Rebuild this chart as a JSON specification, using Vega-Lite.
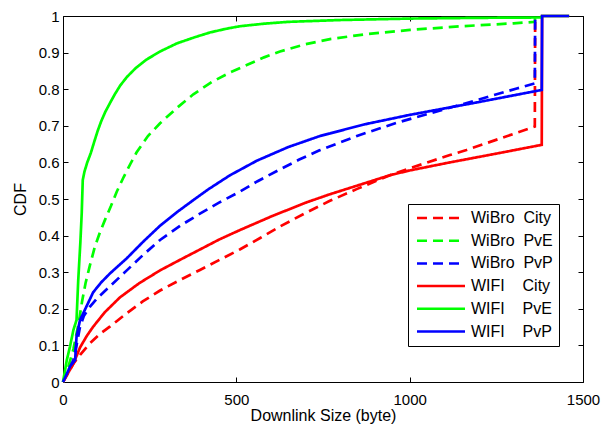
{
  "$schema": "https://vega.github.io/schema/vega-lite/v6.json",
  "width": 520,
  "height": 366,
  "autosize": {"type": "none"},
  "padding": {"left": 63, "top": 16, "right": 20, "bottom": 45},
  "config": {
    "font": "Liberation Sans",
    "view": {"stroke": null},
    "axis": {
      "domainColor": "black", "tickColor": "black", "labelColor": "black", "titleColor": "black",
      "labelFontSize": 15, "titleFontSize": 16, "titleFontWeight": "normal",
      "labelFont": "Liberation Sans", "titleFont": "Liberation Sans",
      "grid": false, "tickSize": -5, "domainWidth": 1, "tickWidth": 1,
      "labelFlush": false, "labelOverlap": false
    }
  },
  "data": {"values": [
    {"s":"WiBro City","x":0,"y":0},{"s":"WiBro City","x":12,"y":0.02},{"s":"WiBro City","x":30,"y":0.05},{"s":"WiBro City","x":50,"y":0.075},{"s":"WiBro City","x":78,"y":0.106},{"s":"WiBro City","x":105,"y":0.13},{"s":"WiBro City","x":136,"y":0.152},{"s":"WiBro City","x":184,"y":0.188},{"s":"WiBro City","x":230,"y":0.22},{"s":"WiBro City","x":280,"y":0.25},{"s":"WiBro City","x":340,"y":0.28},{"s":"WiBro City","x":395,"y":0.306},{"s":"WiBro City","x":450,"y":0.333},{"s":"WiBro City","x":510,"y":0.362},{"s":"WiBro City","x":570,"y":0.394},{"s":"WiBro City","x":626,"y":0.425},{"s":"WiBro City","x":700,"y":0.462},{"s":"WiBro City","x":770,"y":0.495},{"s":"WiBro City","x":847,"y":0.527},{"s":"WiBro City","x":910,"y":0.552},{"s":"WiBro City","x":943,"y":0.565},{"s":"WiBro City","x":1000,"y":0.584},{"s":"WiBro City","x":1116,"y":0.62},{"s":"WiBro City","x":1164,"y":0.634},{"s":"WiBro City","x":1260,"y":0.665},{"s":"WiBro City","x":1361,"y":0.698},{"s":"WiBro City","x":1362,"y":1.0},
    {"s":"WiBro PvE","x":0,"y":0},{"s":"WiBro PvE","x":15,"y":0.04},{"s":"WiBro PvE","x":30,"y":0.09},{"s":"WiBro PvE","x":45,"y":0.16},{"s":"WiBro PvE","x":55,"y":0.22},{"s":"WiBro PvE","x":65,"y":0.27},{"s":"WiBro PvE","x":78,"y":0.32},{"s":"WiBro PvE","x":92,"y":0.37},{"s":"WiBro PvE","x":107,"y":0.41},{"s":"WiBro PvE","x":122,"y":0.445},{"s":"WiBro PvE","x":138,"y":0.48},{"s":"WiBro PvE","x":155,"y":0.52},{"s":"WiBro PvE","x":175,"y":0.56},{"s":"WiBro PvE","x":195,"y":0.597},{"s":"WiBro PvE","x":212,"y":0.627},{"s":"WiBro PvE","x":245,"y":0.672},{"s":"WiBro PvE","x":280,"y":0.707},{"s":"WiBro PvE","x":330,"y":0.75},{"s":"WiBro PvE","x":376,"y":0.786},{"s":"WiBro PvE","x":430,"y":0.82},{"s":"WiBro PvE","x":482,"y":0.846},{"s":"WiBro PvE","x":530,"y":0.866},{"s":"WiBro PvE","x":580,"y":0.887},{"s":"WiBro PvE","x":626,"y":0.903},{"s":"WiBro PvE","x":700,"y":0.923},{"s":"WiBro PvE","x":770,"y":0.937},{"s":"WiBro PvE","x":880,"y":0.951},{"s":"WiBro PvE","x":1001,"y":0.962},{"s":"WiBro PvE","x":1150,"y":0.972},{"s":"WiBro PvE","x":1300,"y":0.98},{"s":"WiBro PvE","x":1361,"y":0.984},{"s":"WiBro PvE","x":1362,"y":1.0},
    {"s":"WiBro PvP","x":0,"y":0},{"s":"WiBro PvP","x":15,"y":0.03},{"s":"WiBro PvP","x":30,"y":0.06},{"s":"WiBro PvP","x":39,"y":0.1},{"s":"WiBro PvP","x":49,"y":0.15},{"s":"WiBro PvP","x":60,"y":0.18},{"s":"WiBro PvP","x":78,"y":0.206},{"s":"WiBro PvP","x":100,"y":0.23},{"s":"WiBro PvP","x":136,"y":0.262},{"s":"WiBro PvP","x":184,"y":0.305},{"s":"WiBro PvP","x":232,"y":0.348},{"s":"WiBro PvP","x":280,"y":0.388},{"s":"WiBro PvP","x":340,"y":0.428},{"s":"WiBro PvP","x":395,"y":0.46},{"s":"WiBro PvP","x":450,"y":0.49},{"s":"WiBro PvP","x":510,"y":0.52},{"s":"WiBro PvP","x":560,"y":0.548},{"s":"WiBro PvP","x":620,"y":0.578},{"s":"WiBro PvP","x":680,"y":0.607},{"s":"WiBro PvP","x":740,"y":0.633},{"s":"WiBro PvP","x":850,"y":0.673},{"s":"WiBro PvP","x":962,"y":0.708},{"s":"WiBro PvP","x":1100,"y":0.745},{"s":"WiBro PvP","x":1200,"y":0.772},{"s":"WiBro PvP","x":1309,"y":0.802},{"s":"WiBro PvP","x":1361,"y":0.816},{"s":"WiBro PvP","x":1362,"y":1.0},
    {"s":"WIFI City","x":0,"y":0},{"s":"WIFI City","x":15,"y":0.025},{"s":"WIFI City","x":30,"y":0.05},{"s":"WIFI City","x":49,"y":0.094},{"s":"WIFI City","x":68,"y":0.125},{"s":"WIFI City","x":87,"y":0.151},{"s":"WIFI City","x":120,"y":0.19},{"s":"WIFI City","x":164,"y":0.231},{"s":"WIFI City","x":220,"y":0.27},{"s":"WIFI City","x":280,"y":0.305},{"s":"WIFI City","x":340,"y":0.335},{"s":"WIFI City","x":395,"y":0.362},{"s":"WIFI City","x":450,"y":0.389},{"s":"WIFI City","x":510,"y":0.415},{"s":"WIFI City","x":600,"y":0.452},{"s":"WIFI City","x":700,"y":0.49},{"s":"WIFI City","x":770,"y":0.513},{"s":"WIFI City","x":850,"y":0.537},{"s":"WIFI City","x":943,"y":0.565},{"s":"WIFI City","x":1000,"y":0.578},{"s":"WIFI City","x":1116,"y":0.6},{"s":"WIFI City","x":1250,"y":0.624},{"s":"WIFI City","x":1381,"y":0.648},{"s":"WIFI City","x":1382,"y":1.0},{"s":"WIFI City","x":1460,"y":1.0},
    {"s":"WIFI PvE","x":0,"y":0},{"s":"WIFI PvE","x":11,"y":0.06},{"s":"WIFI PvE","x":20,"y":0.096},{"s":"WIFI PvE","x":30,"y":0.142},{"s":"WIFI PvE","x":39,"y":0.169},{"s":"WIFI PvE","x":44,"y":0.279},{"s":"WIFI PvE","x":50,"y":0.38},{"s":"WIFI PvE","x":54,"y":0.461},{"s":"WIFI PvE","x":57,"y":0.552},{"s":"WIFI PvE","x":62,"y":0.575},{"s":"WIFI PvE","x":70,"y":0.6},{"s":"WIFI PvE","x":80,"y":0.625},{"s":"WIFI PvE","x":90,"y":0.656},{"s":"WIFI PvE","x":100,"y":0.686},{"s":"WIFI PvE","x":110,"y":0.712},{"s":"WIFI PvE","x":122,"y":0.738},{"s":"WIFI PvE","x":136,"y":0.763},{"s":"WIFI PvE","x":150,"y":0.787},{"s":"WIFI PvE","x":165,"y":0.81},{"s":"WIFI PvE","x":184,"y":0.833},{"s":"WIFI PvE","x":210,"y":0.858},{"s":"WIFI PvE","x":241,"y":0.881},{"s":"WIFI PvE","x":280,"y":0.903},{"s":"WIFI PvE","x":328,"y":0.925},{"s":"WIFI PvE","x":380,"y":0.942},{"s":"WIFI PvE","x":424,"y":0.955},{"s":"WIFI PvE","x":470,"y":0.965},{"s":"WIFI PvE","x":510,"y":0.972},{"s":"WIFI PvE","x":580,"y":0.979},{"s":"WIFI PvE","x":650,"y":0.984},{"s":"WIFI PvE","x":800,"y":0.989},{"s":"WIFI PvE","x":1001,"y":0.993},{"s":"WIFI PvE","x":1200,"y":0.995},{"s":"WIFI PvE","x":1381,"y":0.996},{"s":"WIFI PvE","x":1382,"y":1.0},{"s":"WIFI PvE","x":1460,"y":1.0},
    {"s":"WIFI PvP","x":0,"y":0},{"s":"WIFI PvP","x":10,"y":0.02},{"s":"WIFI PvP","x":20,"y":0.042},{"s":"WIFI PvP","x":35,"y":0.06},{"s":"WIFI PvP","x":39,"y":0.124},{"s":"WIFI PvP","x":49,"y":0.169},{"s":"WIFI PvP","x":63,"y":0.197},{"s":"WIFI PvP","x":87,"y":0.245},{"s":"WIFI PvP","x":110,"y":0.272},{"s":"WIFI PvP","x":136,"y":0.297},{"s":"WIFI PvP","x":184,"y":0.338},{"s":"WIFI PvP","x":232,"y":0.384},{"s":"WIFI PvP","x":280,"y":0.427},{"s":"WIFI PvP","x":330,"y":0.465},{"s":"WIFI PvP","x":376,"y":0.497},{"s":"WIFI PvP","x":420,"y":0.527},{"s":"WIFI PvP","x":482,"y":0.565},{"s":"WIFI PvP","x":560,"y":0.605},{"s":"WIFI PvP","x":650,"y":0.642},{"s":"WIFI PvP","x":741,"y":0.672},{"s":"WIFI PvP","x":870,"y":0.704},{"s":"WIFI PvP","x":1001,"y":0.73},{"s":"WIFI PvP","x":1200,"y":0.765},{"s":"WIFI PvP","x":1381,"y":0.798},{"s":"WIFI PvP","x":1382,"y":1.0},{"s":"WIFI PvP","x":1460,"y":1.0}
  ]},
  "layer": [
    {
      "mark": {"type": "line", "strokeWidth": 2.7},
      "encoding": {
        "x": {"field": "x", "type": "quantitative", "scale": {"domain": [0, 1500], "nice": false},
              "axis": {"values": [0, 500, 1000, 1500], "format": "d", "title": "Downlink Size (byte)", "labelPadding": 15, "titlePadding": 0}},
        "y": {"field": "y", "type": "quantitative", "scale": {"domain": [0, 1], "nice": false},
              "axis": {"values": [0, 0.1, 0.2, 0.3, 0.4, 0.5, 0.6, 0.7, 0.8, 0.9, 1], "format": "~g", "title": "CDF", "labelPadding": 9, "titlePadding": 10}},
        "color": {"field": "s", "type": "nominal",
                  "scale": {"domain": ["WiBro City", "WiBro PvE", "WiBro PvP", "WIFI City", "WIFI PvE", "WIFI PvP"],
                            "range": ["#ff0000", "#00ff00", "#0000ff", "#ff0000", "#00ff00", "#0000ff"]},
                  "legend": {"title": null, "orient": "none", "legendX": 345, "legendY": 188,
                             "padding": 6, "strokeColor": "black", "fillColor": "white",
                             "symbolType": "M-4.8,0H4.8", "symbolSize": 100, "symbolStrokeWidth": 2.5,
                             "symbolOffset": 19, "labelOffset": 22, "rowPadding": 6.7,
                             "labelFontSize": 16, "labelFont": "Liberation Sans", "labelColor": "black", "labelLimit": 300,
                             "labelExpr": "indexof(datum.label, 'WiBro') == 0 ? replace(datum.label, ' ', '\u00a0\u00a0') : replace(datum.label, ' ', '\u00a0\u00a0\u00a0\u00a0')"}},
        "strokeDash": {"field": "s", "type": "nominal",
                       "scale": {"domain": ["WiBro City", "WiBro PvE", "WiBro PvP", "WIFI City", "WIFI PvE", "WIFI PvP"],
                                 "range": [[10, 6], [10, 6], [10, 6], [1, 0], [1, 0], [1, 0]]},
                       "legend": {"title": null, "orient": "none", "legendX": 345, "legendY": 188,
                             "padding": 6, "strokeColor": "black", "fillColor": "white",
                             "symbolType": "M-4.8,0H4.8", "symbolSize": 100, "symbolStrokeWidth": 2.5,
                             "symbolOffset": 19, "labelOffset": 22, "rowPadding": 6.7,
                             "labelFontSize": 16, "labelFont": "Liberation Sans", "labelColor": "black", "labelLimit": 300,
                             "labelExpr": "indexof(datum.label, 'WiBro') == 0 ? replace(datum.label, ' ', '\u00a0\u00a0') : replace(datum.label, ' ', '\u00a0\u00a0\u00a0\u00a0')"}}
      }
    },
    {
      "mark": {"type": "point", "opacity": 0},
      "encoding": {
        "x": {"field": "x", "type": "quantitative", "axis": {"orient": "top", "labels": false, "title": null, "values": [0, 500, 1000, 1500]}},
        "y": {"field": "y", "type": "quantitative", "axis": {"orient": "right", "labels": false, "title": null, "values": [0, 0.1, 0.2, 0.3, 0.4, 0.5, 0.6, 0.7, 0.8, 0.9, 1]}}
      }
    }
  ],
  "resolve": {"axis": {"x": "independent", "y": "independent"}}
}
